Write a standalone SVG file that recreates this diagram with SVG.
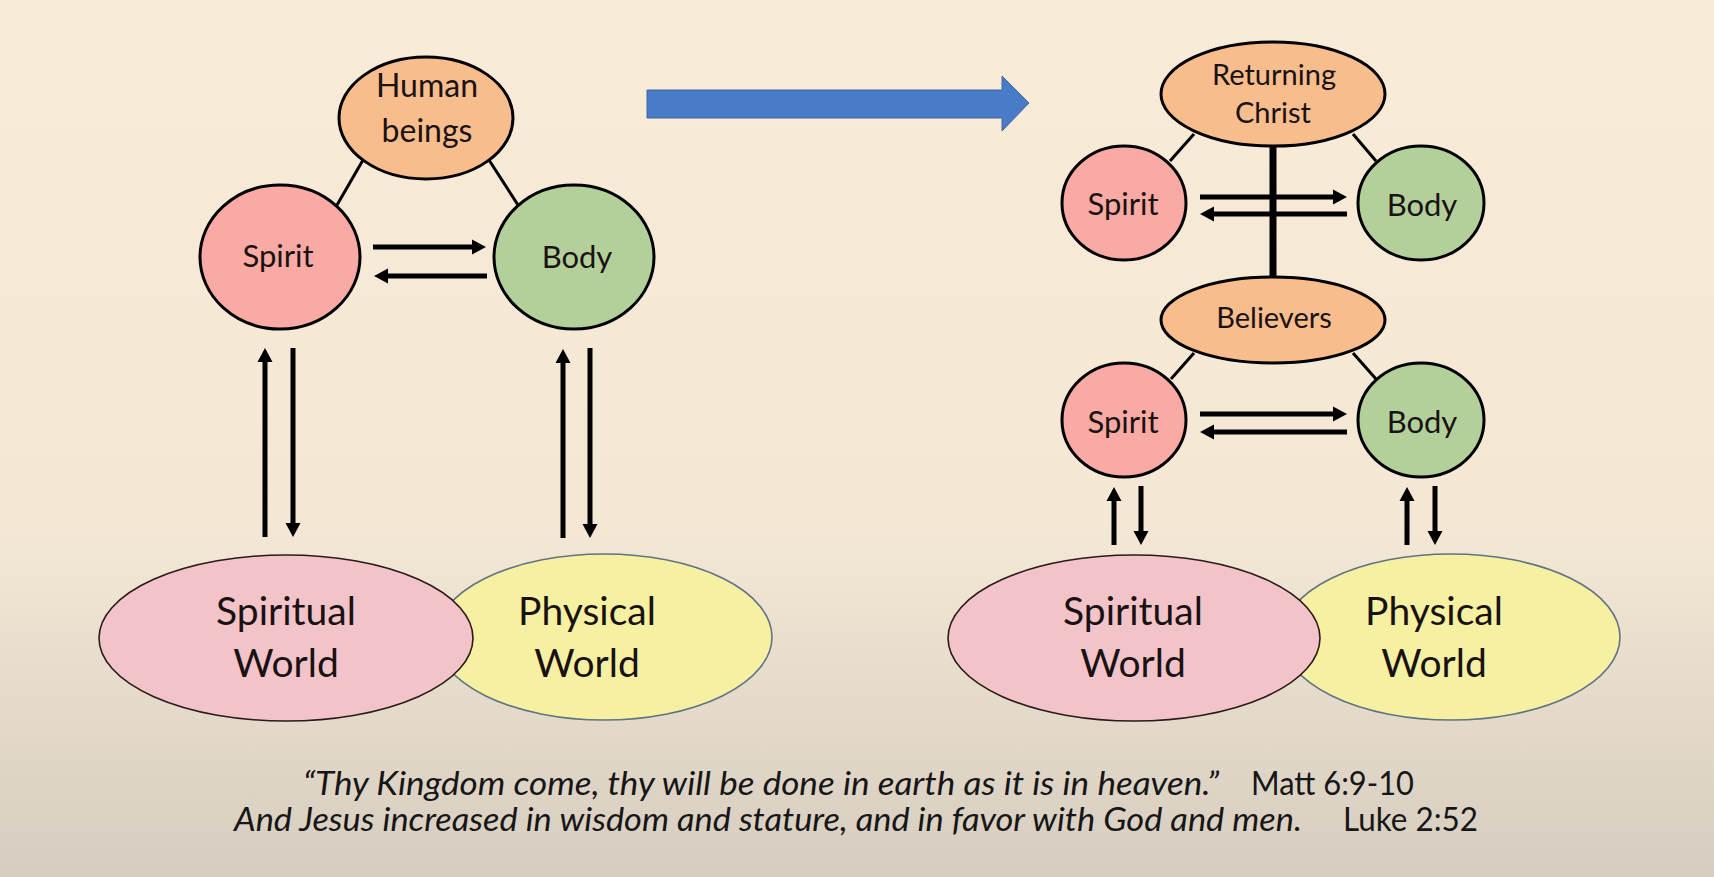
<svg xmlns="http://www.w3.org/2000/svg" width="1714" height="877" viewBox="0 0 1714 877">
<defs>
<linearGradient id="bg" x1="0" y1="0" x2="0" y2="1">
<stop offset="0" stop-color="#f8ecd9"/>
<stop offset="0.6" stop-color="#f4e8d5"/>
<stop offset="1" stop-color="#d6cdc0"/>
</linearGradient>
<marker id="ah" markerUnits="userSpaceOnUse" markerWidth="16" markerHeight="16" refX="2" refY="8" orient="auto">
<path d="M0,0.5 L14,8 L0,15.5 z" fill="#000"/>
</marker>
<style>
.n{stroke:#000;stroke-width:3}
.hb{fill:#f8bd8c}
.sp{fill:#f9aaa4}
.bd{fill:#b3d09b}
.sw{fill:#f2c4c9;stroke:#2a1a1a;stroke-width:1.6}
.pw{fill:#f6f1a2;stroke:#5f7380;stroke-width:1.6}
.t{font-family:Lato,"Liberation Sans",sans-serif;fill:#1a1212;text-anchor:middle}
.c{stroke:#000;stroke-width:3;fill:none}
.a{stroke:#000;stroke-width:5;fill:none;marker-end:url(#ah)}
.q{font-family:Lato,"Liberation Sans",sans-serif;fill:#161616;font-size:32px}
</style>
</defs>
<rect width="1714" height="877" fill="url(#bg)"/>

<g id="transition-arrow">
<path d="M647,90 L1002,90 L1002,76 L1029,103 L1002,131 L1002,118 L647,118 z" fill="#4a7bc9" stroke="#41699f" stroke-width="1"/>
</g>

<g id="connectors">
<line class="c" x1="363" y1="160" x2="337" y2="205"/>
<line class="c" x1="489" y1="160" x2="518" y2="205"/>
<line class="a" x1="373" y1="247" x2="474" y2="247"/>
<line class="a" x1="487" y1="276" x2="386" y2="276"/>
<line class="a" x1="265" y1="537" x2="265" y2="360"/>
<line class="a" x1="293" y1="348" x2="293" y2="525"/>
<line class="a" x1="563" y1="538" x2="563" y2="361"/>
<line class="a" x1="590" y1="348" x2="590" y2="526"/>

<line class="c" x1="1194" y1="134" x2="1170" y2="161"/>
<line class="c" x1="1353" y1="134" x2="1376" y2="161"/>
<line x1="1273" y1="146" x2="1273" y2="278" stroke="#000" stroke-width="7"/>
<line class="a" x1="1200" y1="197" x2="1335" y2="197"/>
<line class="a" x1="1347" y1="214" x2="1212" y2="214"/>

<line class="c" x1="1194" y1="353" x2="1171" y2="379"/>
<line class="c" x1="1353" y1="353" x2="1376" y2="379"/>
<line class="a" x1="1200" y1="414" x2="1335" y2="414"/>
<line class="a" x1="1347" y1="432" x2="1212" y2="432"/>
<line class="a" x1="1114" y1="545" x2="1114" y2="499"/>
<line class="a" x1="1141" y1="486" x2="1141" y2="533"/>
<line class="a" x1="1407" y1="545" x2="1407" y2="499"/>
<line class="a" x1="1435" y1="486" x2="1435" y2="533"/>
</g>

<g id="human-beings">
<ellipse class="n hb" cx="426" cy="118" rx="87" ry="61"/>
<text class="t" x="427" y="97" font-size="32">Human</text>
<text class="t" x="427" y="142" font-size="32">beings</text>
</g>
<g id="spirit-left">
<ellipse class="n sp" cx="280" cy="257" rx="80" ry="72"/>
<text class="t" x="278" y="267" font-size="31">Spirit</text>
</g>
<g id="body-left">
<ellipse class="n bd" cx="574" cy="257" rx="80" ry="72"/>
<text class="t" x="577" y="268" font-size="31">Body</text>
</g>
<g id="physical-world-left">
<ellipse class="pw" cx="604" cy="637" rx="168" ry="83"/>
<text class="t" x="587" y="625" font-size="39">Physical</text>
<text class="t" x="587" y="677" font-size="39">World</text>
</g>
<g id="spiritual-world-left">
<ellipse class="sw" cx="286" cy="638" rx="187" ry="83"/>
<text class="t" x="286" y="625" font-size="39">Spiritual</text>
<text class="t" x="286" y="677" font-size="39">World</text>
</g>

<g id="returning-christ">
<ellipse class="n hb" cx="1273" cy="94" rx="112" ry="52"/>
<text class="t" x="1274" y="85" font-size="29">Returning</text>
<text class="t" x="1273" y="123" font-size="29">Christ</text>
</g>
<g id="spirit-top-right">
<ellipse class="n sp" cx="1124" cy="203" rx="62" ry="57"/>
<text class="t" x="1123" y="215" font-size="31">Spirit</text>
</g>
<g id="body-top-right">
<ellipse class="n bd" cx="1421" cy="203" rx="63" ry="57"/>
<text class="t" x="1422" y="216" font-size="31">Body</text>
</g>
<g id="believers">
<ellipse class="n hb" cx="1273" cy="320" rx="112" ry="43"/>
<text class="t" x="1274" y="328" font-size="29">Believers</text>
</g>
<g id="spirit-bottom-right">
<ellipse class="n sp" cx="1124" cy="420" rx="62" ry="57"/>
<text class="t" x="1123" y="433" font-size="31">Spirit</text>
</g>
<g id="body-bottom-right">
<ellipse class="n bd" cx="1421" cy="420" rx="63" ry="57"/>
<text class="t" x="1422" y="433" font-size="31">Body</text>
</g>
<g id="physical-world-right">
<ellipse class="pw" cx="1451" cy="637" rx="169" ry="83"/>
<text class="t" x="1434" y="625" font-size="39">Physical</text>
<text class="t" x="1434" y="677" font-size="39">World</text>
</g>
<g id="spiritual-world-right">
<ellipse class="sw" cx="1134" cy="638" rx="186" ry="83"/>
<text class="t" x="1133" y="625" font-size="39">Spiritual</text>
<text class="t" x="1133" y="677" font-size="39">World</text>
</g>

<g id="quotes">
<text class="q" x="303" y="795" font-style="italic" textLength="916" lengthAdjust="spacingAndGlyphs">“Thy Kingdom come, thy will be done in earth as it is in heaven.”</text>
<text class="q" x="1251" y="795" textLength="163" lengthAdjust="spacingAndGlyphs">Matt 6:9-10</text>
<text class="q" x="234" y="831" font-style="italic" textLength="1068" lengthAdjust="spacingAndGlyphs">And Jesus increased in wisdom and stature, and in favor with God and men.</text>
<text class="q" x="1343" y="831" textLength="135" lengthAdjust="spacingAndGlyphs">Luke 2:52</text>
</g>
</svg>
